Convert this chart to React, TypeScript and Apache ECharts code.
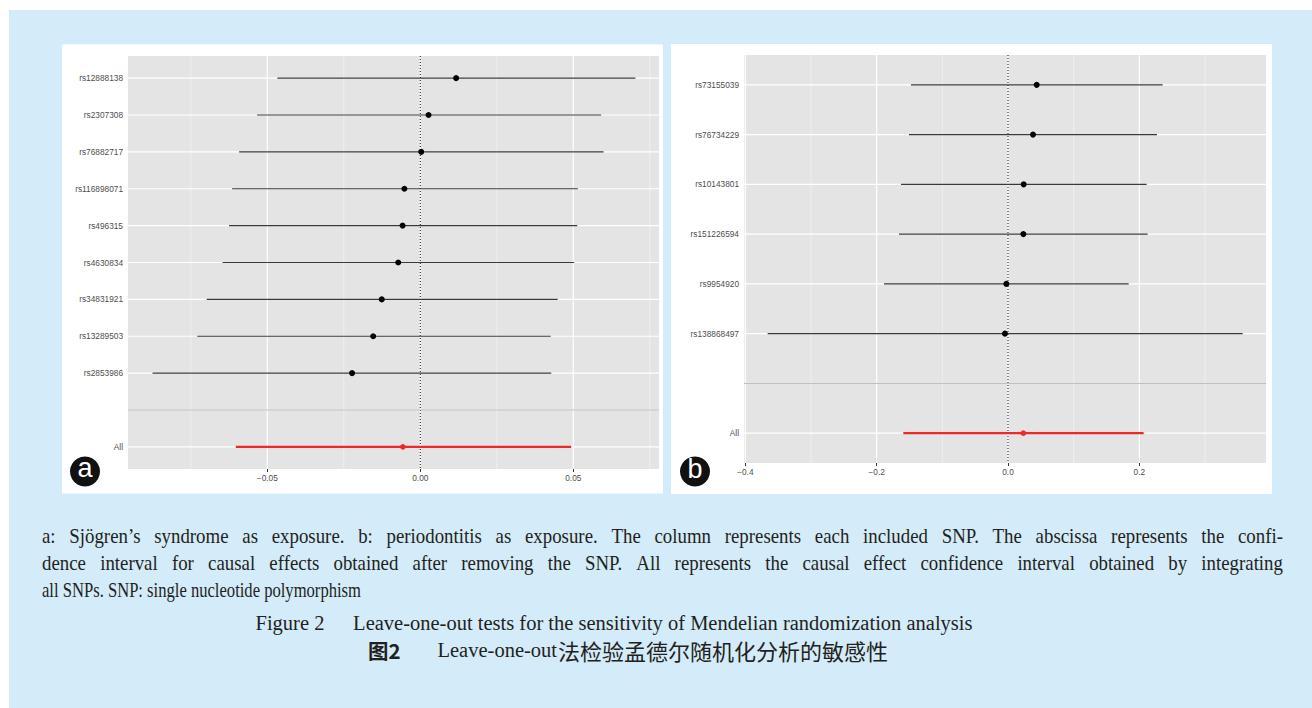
import React, { useEffect, useRef } from 'react';
import * as echarts from 'echarts';

// ---------- Panel a: Sjögren's syndrome as exposure ----------
const snpsA = ['rs12888138', 'rs2307308', 'rs76882717', 'rs116898071', 'rs496315', 'rs4630834', 'rs34831921', 'rs13289503', 'rs2853986'];
const estA = [0.0117, 0.0027, 0.0003, -0.0052, -0.0058, -0.0072, -0.0126, -0.0154, -0.0223];
const loA = [-0.0467, -0.0533, -0.0592, -0.0615, -0.0625, -0.0646, -0.0698, -0.0729, -0.0875];
const hiA = [0.0703, 0.0591, 0.0599, 0.0515, 0.0513, 0.0503, 0.0449, 0.0426, 0.0428];
const allA = [-0.0603, -0.0057, 0.0493]; // lower, estimate, upper
const ticksA = [-0.05, 0, 0.05];
const minorA = [-0.075, -0.025, 0.025, 0.075];

// ---------- Panel b: periodontitis as exposure ----------
const snpsB = ['rs73155039', 'rs76734229', 'rs10143801', 'rs151226594', 'rs9954920', 'rs138868497'];
const estB = [0.0437, 0.0381, 0.0239, 0.0234, -0.0025, -0.0046];
const loB = [-0.1477, -0.1508, -0.163, -0.166, -0.1888, -0.366];
const hiB = [0.2355, 0.2269, 0.2112, 0.2127, 0.1838, 0.3574];
const allB = [-0.1594, 0.0234, 0.2066];
const ticksB = [-0.4, -0.2, 0, 0.2];
const minorB = [-0.3, -0.1, 0.1, 0.3];

// ---------- Caption ----------
const captionLine1 = 'a: Sjögren’s syndrome as exposure. b: periodontitis as exposure. The column represents each included SNP. The abscissa represents the confi-';
const captionLine2 = 'dence interval for causal effects obtained after removing the SNP. All represents the causal effect confidence interval obtained by integrating';
const captionLine3 = 'all SNPs. SNP: single nucleotide polymorphism';
const titleEnLabel = 'Figure 2';
const titleEn = 'Leave-one-out tests for the sensitivity of Mendelian randomization analysis';
const titleZhLabel = '图2';
const titleZhLatin = 'Leave-one-out';
const titleZh = '法检验孟德尔随机化分析的敏感性';

const SERIF = '"Liberation Serif", "Noto Sans CJK SC", serif';
const CJK = '"Noto Sans CJK SC", sans-serif';
const SANS = '"Liberation Sans", Arial, sans-serif';
const CAP_SIZE = 20.5;
const CJK_SIZE = 22;
const WORD_SCALE = 0.92;
const CAP_COLOR = '#231f20';
const RED = '#ec2a26';

function measure(text: string, font: string): number {
  const ctx = document.createElement('canvas').getContext('2d')!;
  ctx.font = font;
  return ctx.measureText(text).width;
}

const capFont = (bold = false) => `${bold ? 'bold ' : ''}${CAP_SIZE}px "Liberation Serif", "Noto Sans CJK SC"`;

function capText(text: string, x: number, y: number, opts: any = {}): any {
  return {
    type: 'text',
    x,
    y,
    scaleX: opts.scaleX ?? 1,
    style: {
      text,
      fontSize: opts.fontSize ?? CAP_SIZE,
      fontFamily: opts.fontFamily ?? SERIF,
      fontWeight: opts.bold ? 'bold' : 'normal',
      fill: CAP_COLOR,
      textVerticalAlign: 'middle',
    },
  };
}

function justify(text: string, x0: number, x1: number, y: number): any[] {
  const font = capFont();
  const words = text.split(' ');
  const widths = words.map((w) => measure(w, font) * WORD_SCALE);
  const total = widths.reduce((a, b) => a + b, 0);
  const gap = (x1 - x0 - total) / (words.length - 1);
  const out: any[] = [];
  let x = x0;
  words.forEach((w, i) => {
    out.push(capText(w, x, y, { scaleX: WORD_SCALE }));
    x += widths[i] + gap;
  });
  return out;
}

function fmtX(v: number, dec: number): string {
  const s = (Math.abs(v) < 1e-9 ? 0 : v).toFixed(dec);
  return s.replace('-', '\u2212');
}

function buildPanel(
  idx: number,
  snps: string[],
  est: number[],
  lo: number[],
  hi: number[],
  all: number[],
  ticks: number[],
  minor: number[],
  dec: number,
  xmin: number,
  xmax: number
) {
  const labels = [...snps, '', 'All'];
  const rows = labels.length;
  const positions = labels.map((_, i) => i + 1);
  const sepPos = snps.length + 1;

  const xAxis = {
    type: 'value',
    gridIndex: idx,
    min: xmin,
    max: xmax,
    axisLine: { show: false },
    splitLine: { show: false },
    axisTick: { show: true, customValues: ticks, length: 3, lineStyle: { color: '#333', width: 1 } },
    axisLabel: {
      customValues: ticks,
      formatter: (v: number) => fmtX(v, dec),
      fontSize: 8.3,
      fontFamily: SANS,
      color: '#4d4d4d',
      margin: 5,
    },
  };
  const yAxis = {
    type: 'value',
    gridIndex: idx,
    inverse: true,
    min: 0.4,
    max: rows + 0.6,
    axisLine: { show: false },
    splitLine: { show: false },
    axisTick: { show: true, customValues: positions, length: 3, lineStyle: { color: '#333', width: 1 } },
    axisLabel: {
      customValues: positions,
      formatter: (v: number) => labels[Math.round(v) - 1] ?? '',
      fontSize: 8.3,
      fontFamily: SANS,
      color: '#4d4d4d',
      margin: 5,
    },
  };

  const backdrop = {
    type: 'custom',
    xAxisIndex: idx,
    yAxisIndex: idx,
    z: 1,
    silent: true,
    clip: false,
    data: [[0, 1]],
    renderItem: (params: any, api: any) => {
      const cs = params.coordSys;
      const children: any[] = [
        { type: 'rect', shape: { x: cs.x, y: cs.y, width: cs.width, height: cs.height }, style: { fill: '#e4e4e4' } },
      ];
      minor.forEach((v) => {
        const x = api.coord([v, 1])[0];
        children.push({ type: 'line', shape: { x1: x, y1: cs.y, x2: x, y2: cs.y + cs.height }, style: { stroke: '#f4f4f4', lineWidth: 0.7 } });
      });
      ticks.forEach((v) => {
        const x = api.coord([v, 1])[0];
        children.push({ type: 'line', shape: { x1: x, y1: cs.y, x2: x, y2: cs.y + cs.height }, style: { stroke: '#ffffff', lineWidth: 1.2 } });
      });
      positions.forEach((p) => {
        const y = api.coord([0, p])[1];
        children.push({ type: 'line', shape: { x1: cs.x, y1: y, x2: cs.x + cs.width, y2: y }, style: { stroke: '#ffffff', lineWidth: 1.2 } });
      });
      const x0 = api.coord([0, 1])[0];
      children.push({
        type: 'line',
        shape: { x1: x0, y1: cs.y, x2: x0, y2: cs.y + cs.height },
        style: { stroke: '#111', lineWidth: 1, lineDash: [1, 2] },
      });
      const ys = api.coord([0, sepPos])[1];
      children.push({ type: 'line', shape: { x1: cs.x, y1: ys, x2: cs.x + cs.width, y2: ys }, style: { stroke: '#b8b8b8', lineWidth: 1 } });
      return { type: 'group', children };
    },
  };

  const barRender = (color: string, width: number) => (params: any, api: any) => {
    const a = api.coord([api.value(0), api.value(2)]);
    const b = api.coord([api.value(1), api.value(2)]);
    return { type: 'line', shape: { x1: a[0], y1: a[1], x2: b[0], y2: b[1] }, style: { stroke: color, lineWidth: width } };
  };

  const bars = {
    type: 'custom',
    xAxisIndex: idx,
    yAxisIndex: idx,
    z: 3,
    silent: true,
    encode: { x: [0, 1], y: 2 },
    data: snps.map((_, i) => [lo[i], hi[i], i + 1]),
    renderItem: barRender('#3a3a3a', 1.1),
  };
  const allBar = {
    type: 'custom',
    xAxisIndex: idx,
    yAxisIndex: idx,
    z: 3,
    silent: true,
    encode: { x: [0, 1], y: 2 },
    data: [[all[0], all[2], rows]],
    renderItem: barRender(RED, 2.2),
  };
  const points = {
    type: 'scatter',
    xAxisIndex: idx,
    yAxisIndex: idx,
    z: 4,
    silent: true,
    symbolSize: 6,
    itemStyle: { color: '#000', opacity: 1 },
    data: est.map((e, i) => [e, i + 1]),
  };
  const allPoint = {
    type: 'scatter',
    xAxisIndex: idx,
    yAxisIndex: idx,
    z: 4,
    silent: true,
    symbolSize: 5.5,
    itemStyle: { color: RED, opacity: 1 },
    data: [[all[1], rows]],
  };
  return { xAxis, yAxis, series: [backdrop, bars, allBar, points, allPoint] };
}

export default function App() {
  const ref = useRef<HTMLDivElement>(null);

  useEffect(() => {
    if (!ref.current) return;
    const chart = echarts.init(ref.current, undefined, { renderer: 'svg' });

    const pa = buildPanel(0, snpsA, estA, loA, hiA, allA, ticksA, minorA, 2, -0.09552, 0.07801);
    const pb = buildPanel(1, snpsB, estB, loB, hiB, allB, ticksB, minorB, 1, -0.402, 0.3929);

    // English title line, centred
    const enW1 = measure(titleEnLabel, capFont());
    const enW2 = measure(titleEn, capFont());
    const enGap = CAP_SIZE * 1.4;
    const enX0 = 614 - (enW1 + enGap + enW2) / 2;

    // Chinese title line, centred
    const zhW1 = measure(titleZhLabel, `bold ${CAP_SIZE}px "Noto Sans CJK SC"`);
    const zhW2 = measure(titleZhLatin, capFont());
    const zhW3 = measure(titleZh, `${CJK_SIZE}px "Noto Sans CJK SC"`);
    const zhGap = CAP_SIZE * 1.8;
    const zhX0 = 628 - (zhW1 + zhGap + zhW2 + 1 + zhW3) / 2;

    const graphics: any[] = [
      { type: 'rect', shape: { x: 9, y: 10, width: 1303, height: 698 }, style: { fill: '#d4ebf9' } },
      { type: 'rect', shape: { x: 62, y: 44.5, width: 601, height: 449 }, style: { fill: '#ffffff' } },
      { type: 'rect', shape: { x: 671, y: 44, width: 601, height: 450 }, style: { fill: '#ffffff' } },
      { type: 'circle', shape: { cx: 85, cy: 471.5, r: 15 }, style: { fill: '#111' } },
      {
        type: 'text',
        x: 85,
        y: 468,
        style: { text: 'a', fontSize: 27, fontFamily: SANS, fill: '#fff', textAlign: 'center', textVerticalAlign: 'middle' },
      },
      { type: 'circle', shape: { cx: 695, cy: 471.5, r: 15 }, style: { fill: '#111' } },
      {
        type: 'text',
        x: 695,
        y: 469,
        style: { text: 'b', fontSize: 27, fontFamily: SANS, fill: '#fff', textAlign: 'center', textVerticalAlign: 'middle' },
      },
      ...justify(captionLine1, 42, 1283, 536),
      ...justify(captionLine2, 42, 1283, 563),
      capText(captionLine3, 42, 590, { scaleX: 0.81 }),
      capText(titleEnLabel, enX0, 623),
      capText(titleEn, enX0 + enW1 + enGap, 623),
      capText(titleZhLabel, zhX0, 650, { bold: true, fontFamily: CJK }),
      capText(titleZhLatin, zhX0 + zhW1 + zhGap, 650),
      capText(titleZh, zhX0 + zhW1 + zhGap + zhW2 + 1, 650, { fontFamily: CJK, fontSize: CJK_SIZE }),
    ];

    chart.setOption({
      animation: false,
      backgroundColor: '#ffffff',
      grid: [
        { left: 128, top: 56, width: 531, height: 413, show: false },
        { left: 744, top: 55, width: 522, height: 408, show: false },
      ],
      xAxis: [pa.xAxis, pb.xAxis],
      yAxis: [pa.yAxis, pb.yAxis],
      series: [...pa.series, ...pb.series],
      graphic: { elements: graphics },
    } as any);

    return () => chart.dispose();
  }, []);

  return <div ref={ref} style={{ position: 'absolute', left: 0, top: 0, width: 1312, height: 708 }} />;
}
